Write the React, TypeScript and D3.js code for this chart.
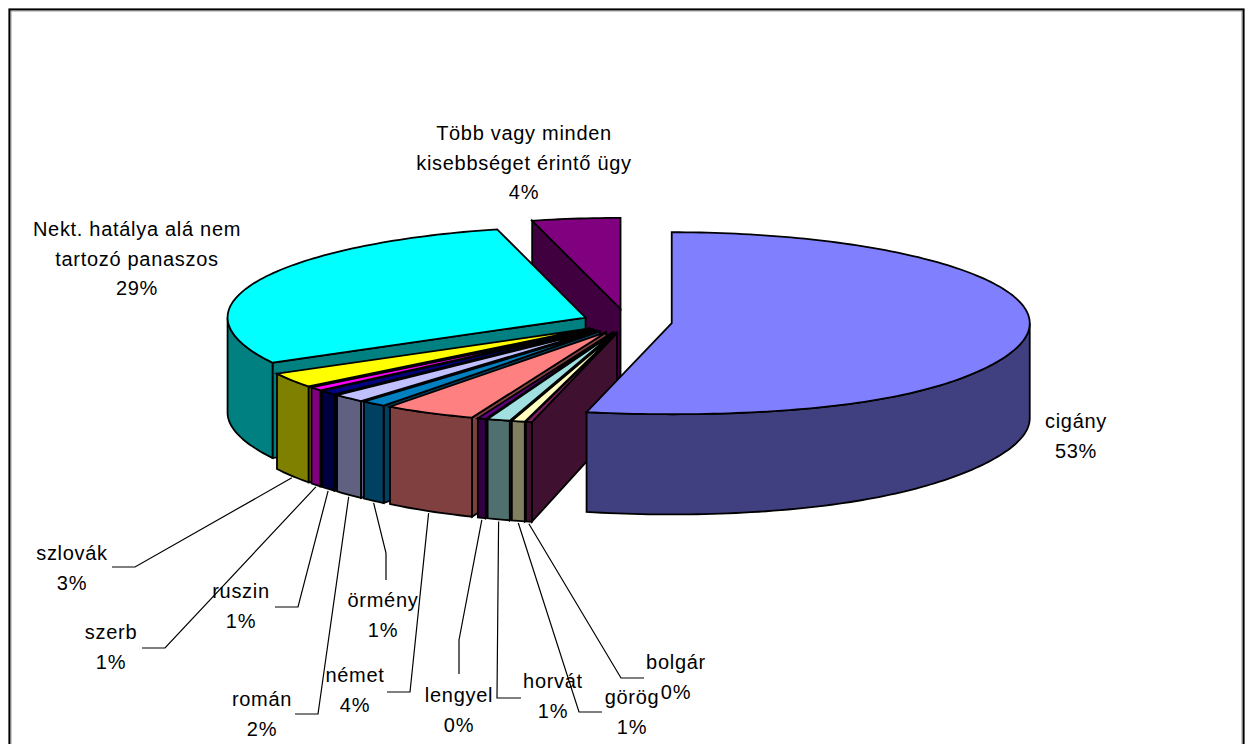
import React from "react";
import * as d3 from "d3";

// Panaszok megoszlása kisebbségenként
const categories = [
  "cigány", "bolgár", "görög", "horvát", "lengyel", "német", "örmény",
  "román", "ruszin", "szerb", "szlovák", "Nekt. hatálya alá nem tartozó panaszos",
  "Több vagy minden kisebbséget érintő ügy",
];
const shares = [53.44, 0.25, 0.55, 0.97, 0.36, 4.14, 1.17, 1.56, 0.9, 0.67, 2.72, 29.3, 3.97];
const percentLabels = ["53%", "0%", "1%", "1%", "0%", "4%", "1%", "2%", "1%", "1%", "3%", "29%", "4%"];
const topColors = [
  "#8080ff", "#802060", "#ffffc0", "#a0e0e0", "#600080", "#ff8080", "#0080c0",
  "#c0c0ff", "#000080", "#ff00ff", "#ffff00", "#00ffff", "#800080",
];
// Distance each slice is pulled out of the pie, in pixels along the long axis.
const pullOut = [45, 45, 45, 45, 45, 45, 45, 45, 45, 45, 45, 45, 52];

// Text placement: each label's lines are stacked from the given centre.
const labelLines = [
  ["cigány"], ["bolgár"], ["görög"], ["horvát"], ["lengyel"], ["német"], ["örmény"],
  ["román"], ["ruszin"], ["szerb"], ["szlovák"], ["Nekt. hatálya alá nem", "tartozó panaszos"],
  ["Több vagy minden", "kisebbséget érintő ügy"],
];
const labelAnchors = [
  [1076, 421], [676, 662], [632, 697], [553, 681], [459, 695], [355, 675], [383, 600],
  [262, 699], [241, 591], [111, 632], [72, 553], [137, 229], [524, 133],
];
// Leader elbows, listed from the label end towards the pie; null when a slice has no leader.
const leaderElbows: (number[][] | null)[] = [
  null,
  [[644, 678], [621, 678]],
  [[602, 712], [579, 712]],
  [[521, 698], [497, 698]],
  [[459, 674], [459, 640]],
  [[387, 692], [410, 692]],
  [[386, 580], [386, 553]],
  [[295, 714], [318, 714]],
  [[275, 607], [298, 607]],
  [[142, 648], [165, 648]],
  [[112, 567], [135, 567]],
  null,
  null,
];

const WIDTH = 1246;
const HEIGHT = 744;
const CX = 627;
const CY = 322;
const RX = 358;
const RY = 91;
const DEPTH = 95;
const LINE_GAP = 29.7;
// The near edge of the pie is drawn a little larger, as in a perspective view.
const WIDEN_NEAR = 0.12;
const DEEPEN_NEAR = 0.055;

const px = d3.scaleLinear().domain([-1, 1]).range([CX - RX, CX + RX]);
const py = d3.scaleLinear().domain([-1, 1]).range([CY - RY, CY + RY]);

type Pt = [number, number];
const line = d3.line<Pt>();
const darken = (c: string) => {
  const rgb = d3.rgb(c);
  return d3.rgb(rgb.r / 2, rgb.g / 2, rgb.b / 2).formatHex();
};

const arcs = d3.pie<number>().sort(null).value((d) => d)(shares);

function buildSlice(i: number) {
  const { startAngle: a0, endAngle: a1 } = arcs[i];
  const mid = (a0 + a1) / 2;
  const pull = pullOut[i] / RX;
  const ox = pull * Math.sin(mid);
  const oy = -pull * Math.cos(mid);
  const at = (a: number, r = 1, drop = 0): Pt => {
    const nearness = Math.pow(Math.max(0, -Math.cos(a)), 4) * r;
    return [
      px(ox + r * Math.sin(a) * (1 + WIDEN_NEAR * nearness)),
      py(oy - r * Math.cos(a)) + drop * (1 + DEEPEN_NEAR * nearness),
    ];
  };
  const sweep = (from: number, to: number, drop = 0): Pt[] => {
    const steps = Math.max(2, Math.ceil((to - from) / 0.02));
    return d3.range(steps + 1).map((k) => at(from + ((to - from) * k) / steps, 1, drop));
  };
  const apex = at(0, 0);
  const apexLow: Pt = [apex[0], apex[1] + DEPTH];
  const top = line([apex, ...sweep(a0, a1)])! + "Z";
  const wall = (a: number) =>
    line([apex, at(a), at(a, 1, DEPTH), apexLow])! + "Z";
  // A cut face is drawn only when it turns towards the viewer.
  const walls: string[] = [];
  if (Math.sin(a0) < -1e-6) walls.push(wall(a0));
  if (Math.sin(a1) > 1e-6) walls.push(wall(a1));
  // The rim is visible only on the near half of the ellipse.
  const rim: string[] = [];
  const from = Math.max(a0, Math.PI / 2);
  const to = Math.min(a1, (3 * Math.PI) / 2);
  if (to > from) {
    rim.push(line([...sweep(from, to), ...sweep(from, to, DEPTH).reverse()])! + "Z");
  }
  return { index: i, mid, top, walls, rim, foot: at(mid, 1, DEPTH + 2) };
}

const slices = shares.map((_, i) => buildSlice(i));
// Left-hand slices go back to front; the right-hand slice is painted over them.
const drawOrder = d3.range(shares.length).sort((p, q) => {
  const sideP = slices[p].mid < Math.PI ? 1 : 0;
  const sideQ = slices[q].mid < Math.PI ? 1 : 0;
  return sideP - sideQ || Math.cos(slices[q].mid) - Math.cos(slices[p].mid);
});

const OUTLINE = { stroke: "#000", strokeWidth: 1.8, strokeLinejoin: "miter" as const };

export default function App() {
  return (
    <svg
      width={WIDTH}
      height={HEIGHT}
      style={{ position: "absolute", left: 0, top: 0, background: "#fff" }}
      fontFamily="'Liberation Sans', Arial, sans-serif"
      fontSize={20}
      letterSpacing={0.7}
    >
      <rect x={9.5} y={9.5} width={1234} height={760} fill="#fff" stroke="#000" strokeWidth={2.2} />
      <rect x={11} y={11} width={1231} height={760} fill="none" stroke="#999" strokeWidth={1} />
      {drawOrder.map((i) => {
        const s = slices[i];
        const side = darken(topColors[i]);
        return (
          <g key={categories[i]}>
            {s.walls.map((d, k) => (
              <path key={k} d={d} fill={side} {...OUTLINE} />
            ))}
            {s.rim.map((d, k) => (
              <path key={k} d={d} fill={side} {...OUTLINE} />
            ))}
            <path d={s.top} fill={topColors[i]} {...OUTLINE} />
          </g>
        );
      })}
      {leaderElbows.map((elbow, i) =>
        elbow ? (
          <path
            key={categories[i]}
            d={line([...(elbow as Pt[]), slices[i].foot as Pt]) ?? ""}
            fill="none"
            stroke="#000"
            strokeWidth={1.2}
          />
        ) : null
      )}
      {categories.map((name, i) => {
        const rows = [...labelLines[i], percentLabels[i]];
        const [x, y] = labelAnchors[i];
        return (
          <text key={name} textAnchor="middle" fill="#000">
            {rows.map((row, k) => (
              <tspan key={k} x={x} y={y + 7 + k * LINE_GAP}>
                {row}
              </tspan>
            ))}
          </text>
        );
      })}
    </svg>
  );
}
